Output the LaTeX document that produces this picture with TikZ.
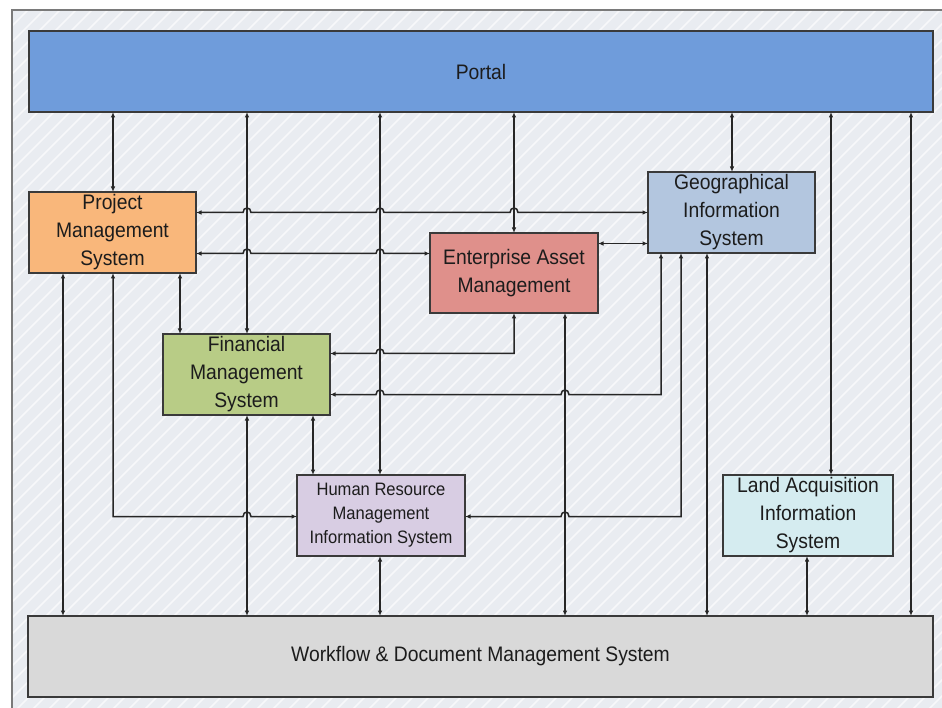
\documentclass[tikz,border=0pt]{standalone}
\usepackage{fontspec}
\setmainfont{Liberation Sans}[FakeStretch=0.92]
\usetikzlibrary{arrows.meta,calc}
\definecolor{bgc}{HTML}{E9ECF1}
\definecolor{hatchc}{HTML}{F7F8FA}
\definecolor{framec}{HTML}{7A7A7A}
\definecolor{portalc}{HTML}{6F9CDB}
\definecolor{pmsc}{HTML}{F9B77B}
\definecolor{fmsc}{HTML}{B8CC86}
\definecolor{eamc}{HTML}{DF908B}
\definecolor{gisc}{HTML}{B3C6DF}
\definecolor{hrc}{HTML}{D8CDE3}
\definecolor{laisc}{HTML}{D5ECF0}
\definecolor{wdc}{HTML}{D9D9D9}
\definecolor{borderc}{HTML}{3A3A3A}
\definecolor{txtc}{HTML}{1C1C1C}
\newcommand\jump[1]{-- ($(#1)+(-4,0)$) .. controls +(0,-6) and +(0,-6) .. ($(#1)+(4,0)$)}
\begin{document}
\begin{tikzpicture}[x=1pt,y=-1pt,
  box/.style={draw=borderc,line width=1.3pt,inner sep=0pt,outer sep=0pt,align=center,
    text=txtc,font=\fontsize{21}{28}\selectfont,anchor=center},
  link/.style={draw=black!85,line width=1.5pt,{Latex[length=5.5pt,width=4.5pt]}-{Latex[length=5.5pt,width=4.5pt]}}]
\useasboundingbox (0,0) rectangle (942,708);
% background frame
\fill[white] (0,0) rectangle (942,708);
\fill[bgc] (12,10) rectangle (960,730);
\begin{scope}
\clip (12,10) rectangle (960,730);
\foreach \k in {-740,-724,...,960} {
  \draw[hatchc,line width=1.6pt] (\k,730) -- (\k+720,10);
}
\end{scope}
\draw[framec,line width=1.6pt] (12,730) -- (12,10) -- (960,10);
% nodes
\node[box,fill=portalc,minimum width=904pt,minimum height=81pt] (portal) at (481,71.5) {Portal};
\node[box,fill=pmsc,minimum width=167pt,minimum height=81pt] (pms) at (112.5,232.5) {Project\\Management\\System};
\node[box,fill=fmsc,minimum width=167pt,minimum height=81pt] (fms) at (246.5,374.5) {Financial\\Management\\System};
\node[box,fill=eamc,minimum width=168pt,minimum height=80pt] (eam) at (514,273) {Enterprise Asset\\Management};
\node[box,fill=gisc,minimum width=167pt,minimum height=81pt] (gis) at (731.5,212.5) {Geographical\\Information\\System};
\node[box,fill=hrc,minimum width=168pt,minimum height=81pt,font=\fontsize{18}{24}\selectfont] (hrmis) at (381,515.5) {Human Resource\\Management\\Information System};
\node[box,fill=laisc,minimum width=170pt,minimum height=81pt] (lais) at (808,515.5) {Land Acquisition\\Information\\System};
\node[box,fill=wdc,minimum width=905pt,minimum height=81pt] (wdms) at (480.5,656.5) {Workflow \& Document Management System};
% column and row coordinates
\foreach \c in {63,113,180,247,313,380,514,565,661,681,707,732,807,831,911} {\coordinate (c\c) at (\c,0);}
\foreach \r in {212,243,253,353,394,516} {\coordinate (r\r) at (0,\r+0.5);}
% verticals
\draw[link] (portal.south -| c113) -- (pms.north -| c113);
\draw[link] (portal.south -| c247) -- (fms.north -| c247);
\draw[link] (portal.south -| c380) -- (hrmis.north -| c380);
\draw[link] (portal.south -| c514) -- (eam.north -| c514);
\draw[link] (portal.south -| c732) -- (gis.north -| c732);
\draw[link] (portal.south -| c831) -- (lais.north -| c831);
\draw[link] (portal.south -| c911) -- (wdms.north -| c911);
\draw[link] (pms.south -| c63) -- (wdms.north -| c63);
\draw[link] (pms.south -| c180) -- (fms.north -| c180);
\draw[link] (fms.south -| c247) -- (wdms.north -| c247);
\draw[link] (fms.south -| c313) -- (hrmis.north -| c313);
\draw[link] (eam.south -| c565) -- (wdms.north -| c565);
\draw[link] (gis.south -| c707) -- (wdms.north -| c707);
\draw[link] (hrmis.south -| c380) -- (wdms.north -| c380);
\draw[link] (lais.south -| c807) -- (wdms.north -| c807);
% horizontals
\draw[link] (pms.east |- r212) \jump{c247|-r212} \jump{c380|-r212} \jump{c514|-r212} -- (gis.west |- r212);
\draw[link] (pms.east |- r253) \jump{c247|-r253} \jump{c380|-r253} -- (eam.west |- r253);
\draw[link] (eam.east |- r243) -- (gis.west |- r243);
% elbows
\draw[link] (fms.east |- r353) \jump{c380|-r353} -- (c514 |- r353) -- (eam.south -| c514);
\draw[link] (fms.east |- r394) \jump{c380|-r394} \jump{c565|-r394} -- (c661 |- r394) -- (gis.south -| c661);
\draw[link] (pms.south -| c113) -- (c113 |- r516) \jump{c247|-r516} -- (hrmis.west |- r516);
\draw[link] (hrmis.east |- r516) \jump{c565|-r516} -- (c681 |- r516) -- (gis.south -| c681);
\end{tikzpicture}
\end{document}
